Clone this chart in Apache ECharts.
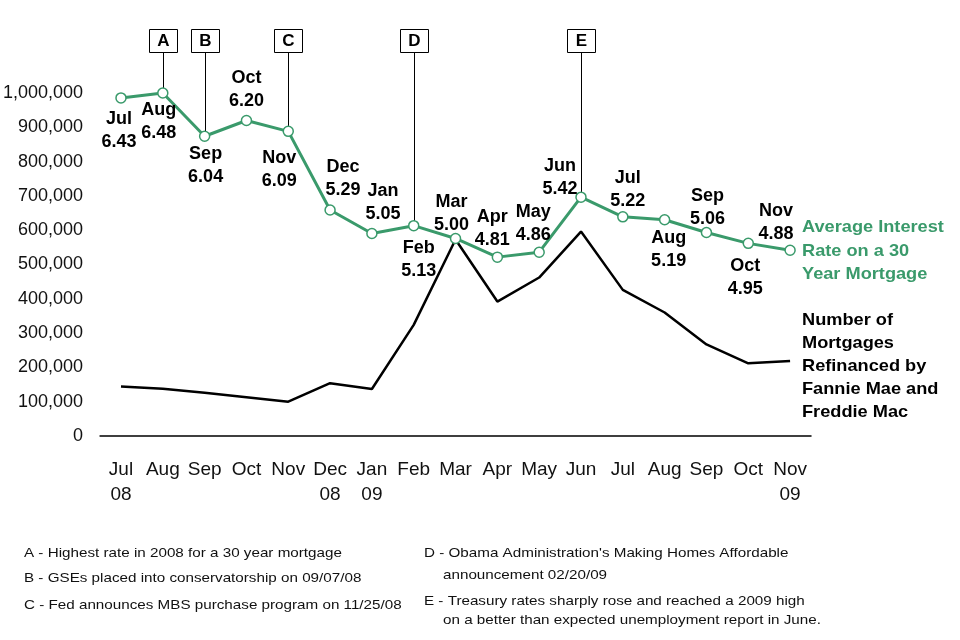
<!DOCTYPE html>
<html>
<head>
<meta charset="utf-8">
<script src="https://cdn.jsdelivr.net/npm/echarts@6/dist/echarts.min.js"></script>
<style>
  html, body { margin: 0; padding: 0; background: #fff; }
  #chart { width: 960px; height: 640px; }
</style>
</head>
<body>
<div id="chart"></div>
<script>
// ---- Data ----
var categories = ['Jul\n08', 'Aug', 'Sep', 'Oct', 'Nov', 'Dec\n08', 'Jan\n09', 'Feb', 'Mar', 'Apr', 'May', 'Jun', 'Jul', 'Aug', 'Sep', 'Oct', 'Nov\n09'];
var refinanced = [144000, 138000, 126000, 113000, 100000, 154000, 137000, 324000, 573000, 392000, 462000, 596000, 426000, 360000, 267000, 212000, 219000];
var rates = [6.43, 6.48, 6.04, 6.20, 6.09, 5.29, 5.05, 5.13, 5.00, 4.81, 4.86, 5.42, 5.22, 5.19, 5.06, 4.95, 4.88];
var yTicks = [0, 100000, 200000, 300000, 400000, 500000, 600000, 700000, 800000, 900000, 1000000];
var annotations = [
  { letter: 'A', index: 1 },
  { letter: 'B', index: 2 },
  { letter: 'C', index: 4 },
  { letter: 'D', index: 7 },
  { letter: 'E', index: 11 }
];
var rateLegend = 'Average Interest\nRate on a 30\nYear Mortgage';
var refiLegend = 'Number of\nMortgages\nRefinanced by\nFannie Mae and\nFreddie Mac';
var notesLeft = [
  'A - Highest rate in 2008 for a 30 year mortgage',
  'B - GSEs placed into conservatorship on 09/07/08',
  'C - Fed announces MBS purchase program on 11/25/08'
];
var notesRight = [
  ["D - Obama Administration's Making Homes Affordable", 'announcement 02/20/09'],
  ['E - Treasury rates sharply rose and reached a 2009 high', 'on a better than expected unemployment report in June.']
];

// ---- Layout (label offsets relative to each point, text line positions) ----
var labelOffsets = [[-2,33],[-4,29],[1,29],[0,-31],[-9,38],[13,-31],[11,-31],[5,34],[-4,-25],[-5,-29],[-6,-29],[-21,-20],[5,-27],[4,30],[1,-25],[-3,34],[-14,-28]];
var leftNoteY = [553, 578, 605];
var rightNoteY = [[553, 575], [601, 620]];

var GREEN = '#3a9a6b';
var FONT = "'Liberation Sans', Arial, sans-serif";

function monthOf(i) { return categories[i].split('\n')[0]; }

var rateData = rates.map(function (v, i) {
  return {
    value: v,
    label: {
      show: true,
      position: 'inside',
      offset: labelOffsets[i],
      formatter: monthOf(i) + '\n' + v.toFixed(2)
    }
  };
});

var chart = echarts.init(document.getElementById('chart'));
chart.setOption({
  animation: false,
  backgroundColor: '#fff',
  grid: { left: 100, right: 149, top: 93, bottom: 204, containLabel: false },
  xAxis: {
    type: 'category',
    data: categories,
    boundaryGap: true,
    axisLine: { lineStyle: { color: '#000', width: 1.5 } },
    axisTick: { show: false },
    axisLabel: { color: '#111', fontSize: 19, fontFamily: FONT, lineHeight: 25, margin: 21, interval: 0 }
  },
  yAxis: [
    {
      type: 'value', min: 0, max: 1000000, interval: 100000,
      axisLine: { show: false }, axisTick: { show: false }, splitLine: { show: false },
      axisLabel: {
        color: '#111', fontSize: 18, fontFamily: FONT, margin: 17,
        formatter: function (v) { return yTicks.indexOf(v) >= 0 ? v.toLocaleString('en-US') : ''; }
      }
    },
    {
      type: 'value', min: 2.99, max: 6.48, show: false, splitLine: { show: false }
    }
  ],
  series: [
    {
      name: 'Refinanced',
      type: 'line',
      yAxisIndex: 0,
      data: refinanced,
      showSymbol: false,
      symbol: 'none',
      lineStyle: { color: '#000', width: 2.5 },
      z: 2
    },
    {
      name: 'Rate',
      type: 'line',
      yAxisIndex: 1,
      data: rateData,
      clip: false,
      symbol: 'circle',
      symbolSize: 10,
      lineStyle: { color: GREEN, width: 3 },
      itemStyle: { color: '#fff', borderColor: GREEN, borderWidth: 1.5 },
      label: { color: '#000', fontSize: 18, fontWeight: 'bold', fontFamily: FONT, lineHeight: 23 },
      z: 3
    }
  ]
});

// ---- Graphic annotations positioned via library scales ----
var graphics = [];
annotations.forEach(function (a) {
  var p = chart.convertToPixel({ seriesIndex: 1 }, [a.index, rates[a.index]]);
  var x = Math.round(p[0]) + 0.5;
  graphics.push({
    type: 'line', z: 1,
    shape: { x1: x, y1: 52, x2: x, y2: p[1] - 4 },
    style: { stroke: '#000', lineWidth: 1 }
  });
  graphics.push({
    type: 'rect', z: 5,
    shape: { x: x - 14, y: 29.5, width: 28, height: 23 },
    style: { fill: '#fff', stroke: '#000', lineWidth: 1 }
  });
  graphics.push({
    type: 'text', z: 6, x: x, y: 41,
    style: { text: a.letter, fill: '#000', font: 'bold 17px ' + FONT, textAlign: 'center', textVerticalAlign: 'middle' }
  });
});
graphics.push({
  type: 'text', x: 802, y: 216, scaleX: 1.07,
  style: { text: rateLegend, fill: GREEN, font: 'bold 17px ' + FONT, lineHeight: 23.5 }
});
graphics.push({
  type: 'text', x: 802, y: 309, scaleX: 1.07,
  style: { text: refiLegend, fill: '#000', font: 'bold 17px ' + FONT, lineHeight: 23 }
});
notesLeft.forEach(function (t, i) {
  graphics.push({
    type: 'text', x: 24, y: leftNoteY[i], scaleX: 1.17,
    style: { text: t, fill: '#111', font: '13px ' + FONT, textVerticalAlign: 'middle' }
  });
});
notesRight.forEach(function (lines, i) {
  lines.forEach(function (t, j) {
    graphics.push({
      type: 'text', x: j === 0 ? 424 : 443, y: rightNoteY[i][j], scaleX: 1.17,
      style: { text: t, fill: '#111', font: '13px ' + FONT, textVerticalAlign: 'middle' }
    });
  });
});
chart.setOption({ graphic: graphics });
</script>
</body>
</html>
